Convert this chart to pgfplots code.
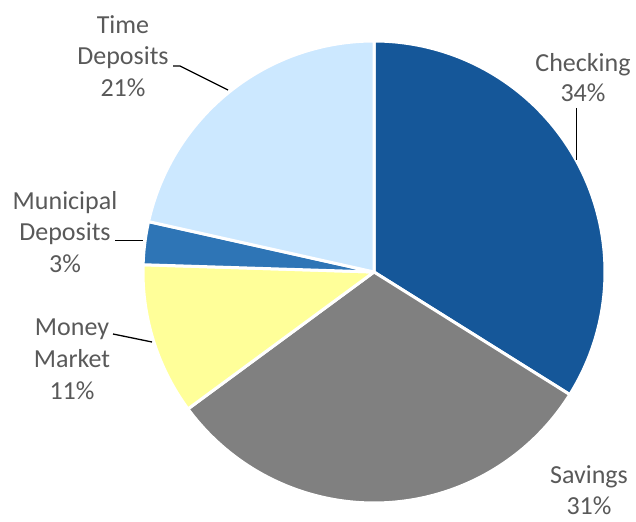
\documentclass[border=0pt]{standalone}
\usepackage{pgfplots}
\pgfplotsset{compat=1.18}
\usepackage{fontspec}
\setmainfont{Carlito}
\definecolor{cChk}{HTML}{155799}
\definecolor{cSav}{HTML}{808080}
\definecolor{cMM}{HTML}{FFFF99}
\definecolor{cMun}{HTML}{2E75B6}
\definecolor{cTD}{HTML}{CCE8FF}
\definecolor{txt}{HTML}{595959}
% shares in percent (clockwise from 12 o'clock)
\def\pChk{33.9}\def\pSav{31.0}\def\pMM{10.6}\def\pMun{3.0}\def\pTD{21.5}
\pgfmathsetmacro\aA{90}
\pgfmathsetmacro\aB{\aA-3.6*\pChk}
\pgfmathsetmacro\aC{\aB-3.6*\pSav}
\pgfmathsetmacro\aD{\aC-3.6*\pMM}
\pgfmathsetmacro\aE{\aD-3.6*\pMun}
\pgfmathsetmacro\aF{\aE-3.6*\pTD}
\def\cx{374}\def\cy{250}\def\R{231}
\begin{document}
\begin{tikzpicture}
\begin{axis}[scale only axis, width=636bp, height=522bp,
  xmin=0, xmax=636, ymin=0, ymax=522, hide axis, clip=false]
\pgfplotsset{slice/.style={draw=white, line width=3bp, line join=round, samples=90, variable=\t}}
\addplot[slice, fill=cChk, domain=\aB:\aA] ({\cx+\R*cos(\t)},{\cy+\R*sin(\t)}) -- (axis cs:\cx,\cy) -- cycle;
\addplot[slice, fill=cSav, domain=\aC:\aB] ({\cx+\R*cos(\t)},{\cy+\R*sin(\t)}) -- (axis cs:\cx,\cy) -- cycle;
\addplot[slice, fill=cMM, domain=\aD:\aC] ({\cx+\R*cos(\t)},{\cy+\R*sin(\t)}) -- (axis cs:\cx,\cy) -- cycle;
\addplot[slice, fill=cMun, domain=\aE:\aD] ({\cx+\R*cos(\t)},{\cy+\R*sin(\t)}) -- (axis cs:\cx,\cy) -- cycle;
\addplot[slice, fill=cTD, domain=\aF:\aE] ({\cx+\R*cos(\t)},{\cy+\R*sin(\t)}) -- (axis cs:\cx,\cy) -- cycle;
% leader lines
\addplot[black, line width=1.3bp] coordinates {(576.7,414) (576.7,362)};
\addplot[black, line width=1.3bp] coordinates {(173,456) (180,456) (228,432)};
\addplot[black, line width=1.3bp] coordinates {(115,281.3) (143,281.3)};
\addplot[black, line width=1.3bp] coordinates {(113,188) (152,180)};
% labels
\begin{scope}[every node/.style={anchor=base, text=txt, font=\fontsize{26bp}{31.7bp}\selectfont, inner sep=0pt}]
\node at (axis cs:583,450) {Checking};
\node at (axis cs:583,420) {34\%};
\node at (axis cs:589,38) {Savings};
\node at (axis cs:589,7) {31\%};
\node at (axis cs:72,186) {Money};
\node at (axis cs:72,154.3) {Market};
\node at (axis cs:72,122.6) {11\%};
\node at (axis cs:65,312.5) {Municipal};
\node at (axis cs:65,281) {Deposits};
\node at (axis cs:65,249.3) {3\%};
\node at (axis cs:123,488.7) {Time};
\node at (axis cs:123,457) {Deposits};
\node at (axis cs:123,425.3) {21\%};
\end{scope}
\end{axis}
\pgfresetboundingbox
\path[use as bounding box] (current axis.south west) rectangle (current axis.north east);
\end{tikzpicture}
\end{document}
